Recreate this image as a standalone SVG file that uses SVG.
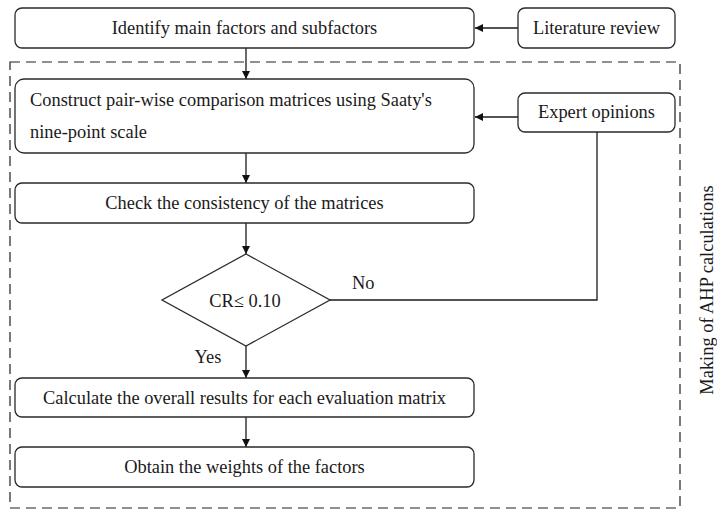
<svg xmlns="http://www.w3.org/2000/svg" width="717" height="511" viewBox="0 0 717 511">
<style>
.box{fill:#fff;stroke:#2a2a2a;stroke-width:1.3}
.t{font-family:"Liberation Serif","Times New Roman",serif;font-size:18.4px;fill:#1a1a1a}
.c{text-anchor:middle}
.ln{fill:none;stroke:#1a1a1a;stroke-width:1.3}
.dash{fill:none;stroke:#222;stroke-width:1.2;stroke-dasharray:10 6}
</style>
<defs>
<marker id="ah" viewBox="0 0 10 10" refX="10" refY="5" markerWidth="9" markerHeight="8" markerUnits="userSpaceOnUse" orient="auto">
<path d="M0,0 L10,5 L0,10 z" fill="#111"/>
</marker>
</defs>
<rect class="dash" x="10" y="62" width="670" height="446"/>
<g id="connectors">
<line class="ln" x1="518" y1="28" x2="475" y2="28" marker-end="url(#ah)"/>
<line class="ln" x1="246" y1="48" x2="246" y2="79" marker-end="url(#ah)"/>
<line class="ln" x1="518" y1="117" x2="475" y2="117" marker-end="url(#ah)"/>
<line class="ln" x1="246" y1="153" x2="246" y2="183" marker-end="url(#ah)"/>
<line class="ln" x1="246" y1="223" x2="246" y2="254" marker-end="url(#ah)"/>
<polyline class="ln" points="597,132 597,300 330,300"/>
<line class="ln" x1="246" y1="346" x2="246" y2="378" marker-end="url(#ah)"/>
<line class="ln" x1="246" y1="417" x2="246" y2="447" marker-end="url(#ah)"/>
<text class="t" x="352" y="289">No</text>
<text class="t c" x="208" y="363">Yes</text>
</g>
<g id="identify">
<rect class="box" x="15" y="8" width="459" height="40" rx="7"/>
<text class="t c" x="244.5" y="34">Identify main factors and subfactors</text>
</g>
<g id="literature">
<rect class="box" x="518" y="8" width="157" height="40" rx="7"/>
<text class="t c" x="596.5" y="34">Literature review</text>
</g>
<g id="construct">
<rect class="box" x="15" y="79" width="459" height="74" rx="9"/>
<text class="t" x="30" y="106">Construct pair-wise comparison matrices using Saaty's</text>
<text class="t" x="30" y="138">nine-point scale</text>
</g>
<g id="expert">
<rect class="box" x="518" y="93" width="157" height="39" rx="7"/>
<text class="t c" x="596.5" y="118">Expert opinions</text>
</g>
<g id="check">
<rect class="box" x="15" y="183" width="459" height="40" rx="7"/>
<text class="t c" x="244.5" y="209">Check the consistency of the matrices</text>
</g>
<g id="decision">
<polygon class="box" points="246,254 330,300 246,346 162,300"/>
<text class="t c" x="245" y="307">CR≤ 0.10</text>
</g>
<g id="calculate">
<rect class="box" x="15" y="378" width="459" height="39" rx="7"/>
<text class="t c" x="244.5" y="404">Calculate the overall results for each evaluation matrix</text>
</g>
<g id="obtain">
<rect class="box" x="15" y="447" width="459" height="40" rx="7"/>
<text class="t c" x="244.5" y="473">Obtain the weights of the factors</text>
</g>
<g id="label">
<text class="t c" transform="translate(713,290) rotate(-90)">Making of AHP calculations</text>
</g>
</svg>
